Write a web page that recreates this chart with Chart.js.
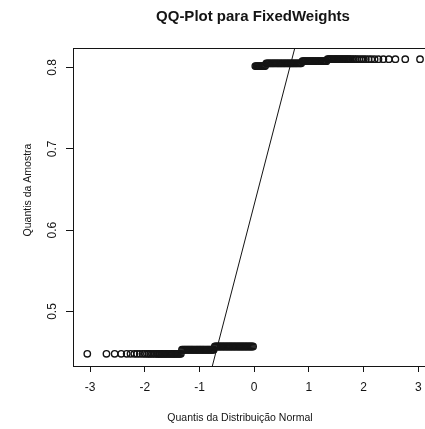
<!DOCTYPE html>
<html>
<head>
<meta charset="utf-8">
<script src="https://cdn.jsdelivr.net/npm/chart.js@4/dist/chart.umd.min.js"></script>
<style>
  html, body { margin: 0; padding: 0; background: #fff; overflow: hidden; }
  #wrap { width: 440px; height: 429px; }
</style>
</head>
<body>
<div id="wrap"><canvas id="qq" width="440" height="429"></canvas></div>
<script>
// Axis ticks
const xTicks = [-3, -2, -1, 0, 1, 2, 3];
const yTicks = [0.5, 0.6, 0.7, 0.8];

// Sample quantile levels (the FixedWeights values take a few distinct steps)
const sampleLevels = [0.4480, 0.4530, 0.4570, 0.8018, 0.8052, 0.8078, 0.8102];

// Theoretical normal quantiles of the observations at each level
const theoreticalByLevel = [
  [-3.05, -2.70, -2.55, -2.43, -2.33, -2.26, -2.19, -2.14, -2.09, -2.04, -2.00, -1.96,
   -1.93, -1.90, -1.87, -1.84, -1.81, -1.78, -1.76, -1.74, -1.72, -1.70, -1.68, -1.66,
   -1.64, -1.62, -1.60, -1.58, -1.56, -1.54, -1.52, -1.50, -1.48, -1.46, -1.44, -1.42,
   -1.40, -1.38, -1.36, -1.34],
  [-1.32, -1.30, -1.28, -1.26, -1.24, -1.22, -1.20, -1.18, -1.16, -1.14, -1.12, -1.10,
   -1.08, -1.06, -1.04, -1.02, -1.00, -0.98, -0.96, -0.94, -0.92, -0.90, -0.88, -0.86,
   -0.84, -0.82, -0.80, -0.78, -0.76, -0.74],
  [-0.72, -0.70, -0.68, -0.66, -0.64, -0.62, -0.60, -0.58, -0.56, -0.54, -0.52, -0.50,
   -0.48, -0.46, -0.44, -0.42, -0.40, -0.38, -0.36, -0.34, -0.32, -0.30, -0.28, -0.26,
   -0.24, -0.22, -0.20, -0.18, -0.16, -0.14, -0.12, -0.10, -0.08, -0.06, -0.04, -0.02],
  [0.02, 0.04, 0.06, 0.08, 0.10, 0.12, 0.14, 0.16, 0.18, 0.20],
  [0.22, 0.24, 0.26, 0.28, 0.30, 0.32, 0.34, 0.36, 0.38, 0.40, 0.42, 0.44, 0.46, 0.48,
   0.50, 0.52, 0.54, 0.56, 0.58, 0.60, 0.62, 0.64, 0.66, 0.68, 0.70, 0.72, 0.74, 0.76,
   0.78, 0.80, 0.82, 0.84, 0.86],
  [0.88, 0.90, 0.92, 0.94, 0.96, 0.98, 1.00, 1.02, 1.04, 1.06, 1.08, 1.10, 1.12, 1.14,
   1.16, 1.18, 1.20, 1.22, 1.24, 1.26, 1.28, 1.30, 1.32],
  [1.34, 1.36, 1.38, 1.40, 1.42, 1.44, 1.46, 1.48, 1.50, 1.52, 1.54, 1.56, 1.58, 1.60,
   1.62, 1.64, 1.66, 1.68, 1.70, 1.72, 1.74, 1.76, 1.79, 1.82, 1.85, 1.88, 1.92, 1.96,
   2.00, 2.04, 2.09, 2.14, 2.20, 2.27, 2.36, 2.46, 2.58, 2.76, 3.03]
];

// Reference line through the first and third quartiles
const refLineX = [-1.0, 1.0];
const refLineY = [0.3720, 0.8909];

const qqPoints = [];
theoreticalByLevel.forEach((xs, i) => {
  xs.forEach(x => qqPoints.push({ x: x, y: sampleLevels[i] }));
});
const refPoints = refLineX.map((x, i) => ({ x: x, y: refLineY[i] }));

const FONT = "'Liberation Sans', Arial, Helvetica, sans-serif";
const INK = '#141414';

const decorations = {
  id: 'decorations',
  afterDraw(chart) {
    const ctx = chart.ctx;
    const a = chart.chartArea;
    const ys = chart.scales.y;
    ctx.save();
    // plot box
    ctx.strokeStyle = INK;
    ctx.lineWidth = 1;
    ctx.strokeRect(Math.round(a.left) + 0.5, Math.round(a.top) + 0.5,
                   Math.round(a.right - a.left), Math.round(a.bottom - a.top));
    ctx.fillStyle = INK;
    ctx.textAlign = 'center';
    ctx.textBaseline = 'middle';
    // title
    ctx.font = 'bold 15px ' + FONT;
    ctx.fillText('QQ-Plot para FixedWeights', 253, 17);
    // x axis title
    ctx.font = '10.5px ' + FONT;
    ctx.fillText('Quantis da Distribuição Normal', 240, 418);
    // y axis title
    ctx.save();
    ctx.translate(28, 190);
    ctx.rotate(-Math.PI / 2);
    ctx.fillText('Quantis da Amostra', 0, 0);
    ctx.restore();
    // y tick labels, written parallel to the axis
    ctx.font = '12px ' + FONT;
    yTicks.forEach(v => {
      const py = ys.getPixelForValue(v);
      ctx.save();
      ctx.translate(53, py);
      ctx.rotate(-Math.PI / 2);
      ctx.fillText(v.toFixed(1), 0, 0);
      ctx.restore();
    });
    ctx.restore();
  }
};

new Chart(document.getElementById('qq'), {
  type: 'scatter',
  data: {
    datasets: [
      {
        data: qqPoints,
        pointStyle: 'circle',
        pointRadius: 3.2,
        pointHoverRadius: 3.2,
        borderColor: INK,
        backgroundColor: 'rgba(0,0,0,0)',
        borderWidth: 1.4,
        showLine: false
      },
      {
        data: refPoints,
        showLine: true,
        pointRadius: 0,
        borderColor: INK,
        borderWidth: 1,
        fill: false
      }
    ]
  },
  options: {
    responsive: false,
    animation: false,
    devicePixelRatio: 1,
    layout: { padding: { top: 48, right: 3, left: 0, bottom: 0 } },
    plugins: {
      legend: { display: false },
      title: { display: false },
      tooltip: { enabled: false }
    },
    scales: {
      x: {
        type: 'linear',
        min: -3.311,
        max: 3.311,
        afterBuildTicks: s => { s.ticks = xTicks.map(v => ({ value: v })); },
        afterFit: s => { s.height = 63; },
        ticks: {
          color: INK,
          font: { family: FONT, size: 12 },
          padding: 8,
          maxRotation: 0,
          autoSkip: false
        },
        grid: {
          drawOnChartArea: false,
          drawTicks: true,
          tickLength: 6,
          color: INK,
          lineWidth: 1
        },
        border: { display: true, color: INK, width: 1 }
      },
      y: {
        type: 'linear',
        min: 0.433,
        max: 0.824,
        afterBuildTicks: s => { s.ticks = yTicks.map(v => ({ value: v })); },
        afterFit: s => { s.width = 73; },
        ticks: { display: false },
        grid: {
          drawOnChartArea: false,
          drawTicks: true,
          tickLength: 7,
          color: INK,
          lineWidth: 1
        },
        border: { display: true, color: INK, width: 1 }
      }
    }
  },
  plugins: [decorations]
});
</script>
</body>
</html>
